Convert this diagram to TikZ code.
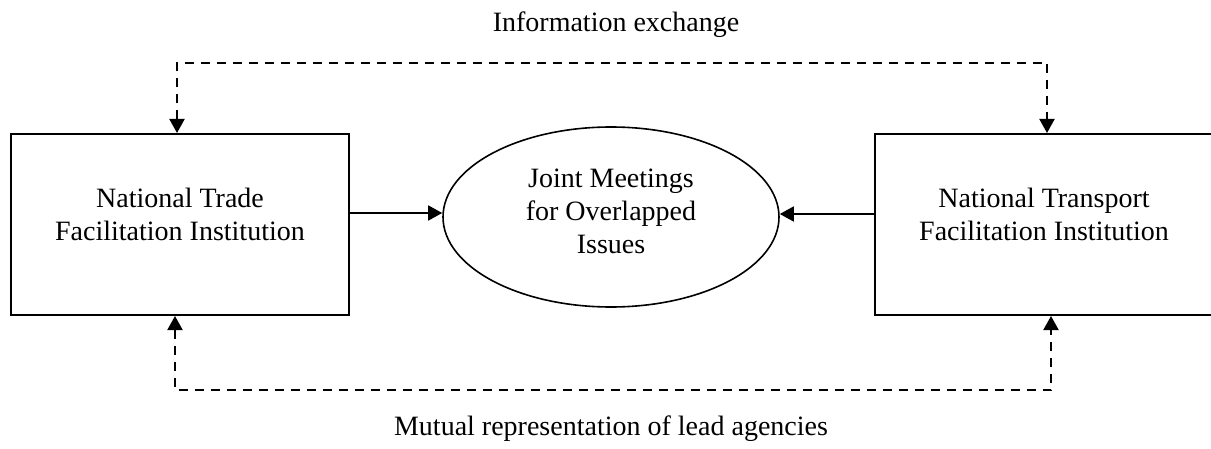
\documentclass[tikz,border=0pt]{standalone}
\usepackage{fontspec}
\setmainfont{Liberation Serif}
\usetikzlibrary{arrows.meta,shapes.geometric}
\begin{document}
\begin{tikzpicture}[x=0.5pt,y=-0.5pt,
  every node/.style={font=\fontsize{14}{16.5}\selectfont, inner sep=0pt},
  boxshape/.style={draw, line width=1pt, rectangle, minimum width=169pt, minimum height=90.5pt},
  ovalshape/.style={draw, line width=0.8pt, ellipse, minimum width=168pt, minimum height=90pt},
  txt/.style={align=center},
  tip/.tip={Triangle[length=7pt,width=7.5pt]},
  solidarrow/.style={line width=0.8pt, -tip},
  dasharrow/.style={line width=1pt, dash pattern=on 4.5pt off 3.5pt, tip-tip}]
\useasboundingbox (0,0) rectangle (1211,449);
\node[boxshape] (trade) at (180,224.5) {};
\node[boxshape, minimum width=170pt] (transport) at (1045,224.5) {};
\node[ovalshape] (joint) at (611,217) {};
\node[txt] (tradetxt) at (180,214) {National Trade\\Facilitation Institution};
\node[txt] (transporttxt) at (1044,214) {National Transport\\Facilitation Institution};
\node[txt] (jointtxt) at (611,211) {Joint Meetings\\for Overlapped\\Issues};
\node (info) at (616,25) {Information exchange};
\node (mutual) at (611,429) {Mutual representation of lead agencies};
\coordinate (tl) at (177,63);
\coordinate (tr) at (1047,63);
\coordinate (bl) at (175,390);
\coordinate (br) at (1051,390);
\draw[solidarrow] (trade.east |- 0,213) -- (joint.west |- 0,213);
\draw[solidarrow] (transport.west |- 0,214) -- (joint.east |- 0,214);
\draw[dasharrow] (tl |- trade.north) -- (tl) -- (tr) -- (tr |- transport.north);
\draw[dasharrow] (bl |- trade.south) -- (bl) -- (br) -- (br |- transport.south);
\end{tikzpicture}
\end{document}
